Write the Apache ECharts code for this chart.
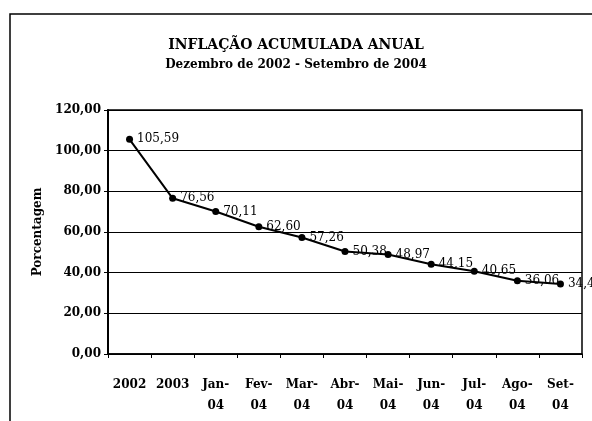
<!DOCTYPE html>
<html>
<head>
<meta charset="utf-8">
<script src="https://cdn.jsdelivr.net/npm/echarts@6/dist/echarts.min.js"></script>
<style>
  html, body { margin: 0; padding: 0; background: #fff; }
  #chart { width: 592px; height: 421px; }
</style>
</head>
<body>
<div id="chart"></div>
<script>
var categories = ['2002', '2003', 'Jan-\n04', 'Fev-\n04', 'Mar-\n04', 'Abr-\n04', 'Mai-\n04', 'Jun-\n04', 'Jul-\n04', 'Ago-\n04', 'Set-\n04'];
var inflacao = [105.59, 76.56, 70.11, 62.60, 57.26, 50.38, 48.97, 44.15, 40.65, 36.06, 34.46];
var yTicks = [0, 20, 40, 60, 80, 100, 120];

var serif = 'DejaVu Serif';
function fmt(v) { return v.toFixed(2).replace('.', ','); }

var myChart = echarts.init(document.getElementById('chart'));
var option = {
    backgroundColor: '#fff',
    animation: false,
    title: {
        text: 'INFLAÇÃO ACUMULADA ANUAL',
        subtext: 'Dezembro de 2002 - Setembro de 2004',
        left: 'center',
        top: 33,
        itemGap: 7,
        textStyle: { fontFamily: serif, fontWeight: 'bold', fontSize: 14, color: '#000' },
        subtextStyle: { fontFamily: serif, fontWeight: 'bold', fontSize: 12, color: '#000' }
    },
    graphic: [
        { type: 'polyline', shape: { points: [[10, 421], [10, 14], [592, 14]] }, style: { stroke: '#000', lineWidth: 1.5, fill: null } }
    ],
    grid: { left: 108, right: 10, top: 110, bottom: 67, show: true, borderColor: '#000', borderWidth: 1.5 },
    xAxis: {
        type: 'category',
        data: categories,
        boundaryGap: true,
        axisLine: { lineStyle: { color: '#000', width: 1.5 } },
        axisTick: { show: true, length: 4, lineStyle: { color: '#000' } },
        axisLabel: { color: '#000', fontFamily: serif, fontWeight: 'bold', fontSize: 12, lineHeight: 21, margin: 20, interval: 0 }
    },
    yAxis: {
        type: 'value',
        min: yTicks[0],
        max: yTicks[yTicks.length - 1],
        interval: 20,
        name: 'Porcentagem',
        nameLocation: 'middle',
        nameGap: 64,
        nameTextStyle: { color: '#000', fontFamily: serif, fontWeight: 'bold', fontSize: 12 },
        axisLine: { show: true, lineStyle: { color: '#000', width: 2 } },
        axisTick: { show: true, length: 4, lineStyle: { color: '#000' } },
        splitLine: { lineStyle: { color: '#000', width: 1.2 } },
        axisLabel: { color: '#000', fontFamily: serif, fontWeight: 'bold', fontSize: 12, margin: 7, formatter: function (v) { return fmt(v); } }
    },
    series: [{
        type: 'line',
        data: inflacao,
        symbol: 'circle',
        symbolSize: 7,
        itemStyle: { color: '#000' },
        lineStyle: { color: '#000', width: 2 },
        label: {
            show: true,
            position: 'right',
            distance: 4,
            color: '#000',
            fontFamily: serif,
            fontSize: 12,
            formatter: function (p) { return fmt(p.value); }
        }
    }]
};
myChart.setOption(option);
</script>
</body>
</html>
